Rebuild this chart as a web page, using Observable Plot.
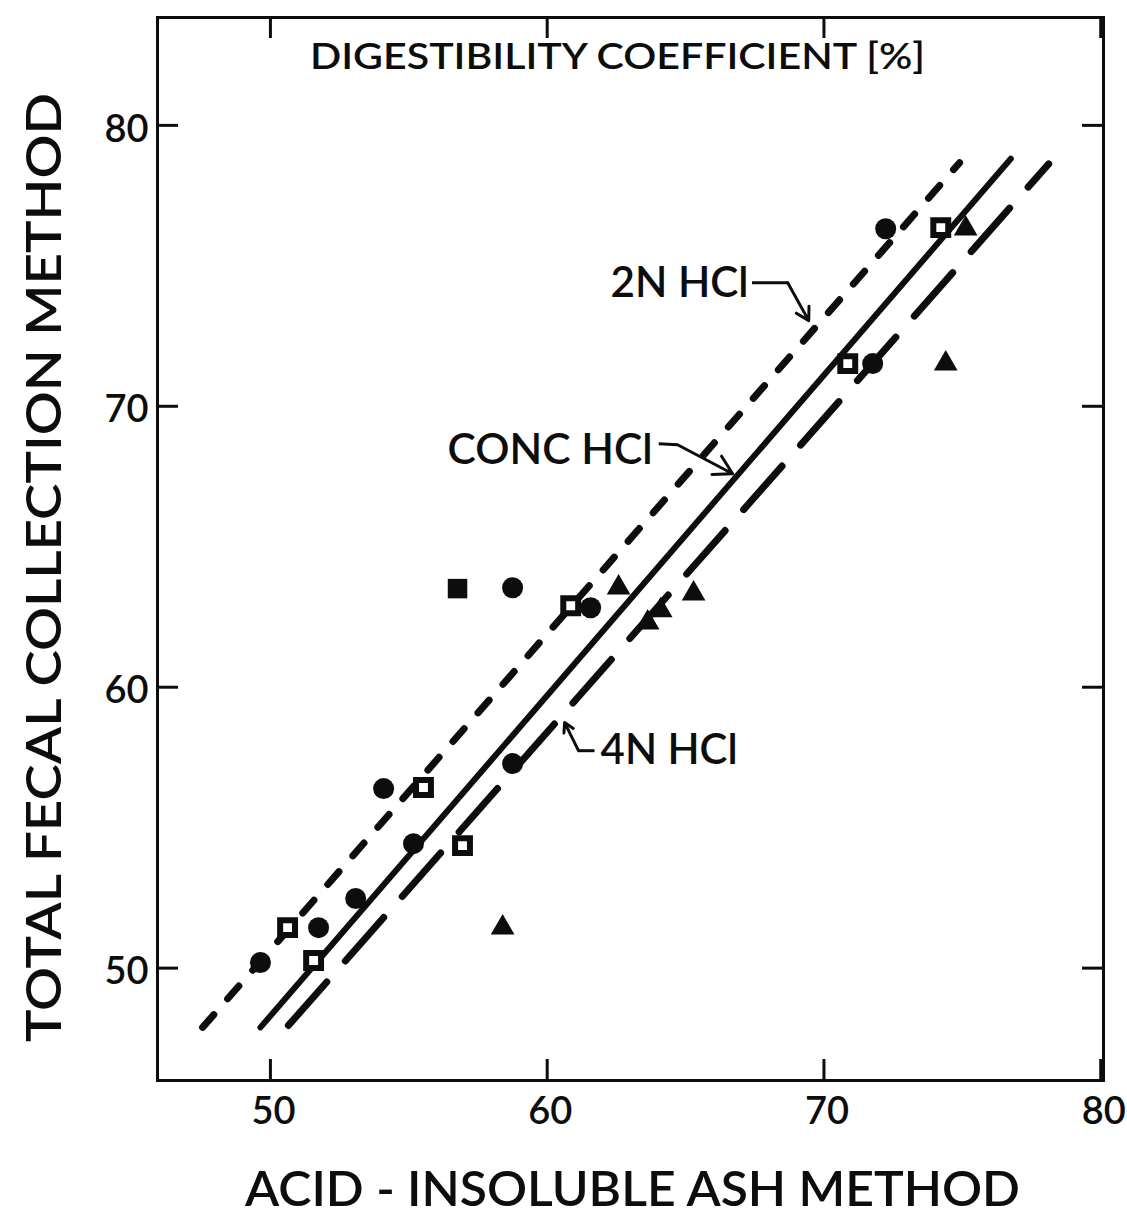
<!DOCTYPE html>
<html><head><meta charset="utf-8">
<script src="https://cdn.jsdelivr.net/npm/d3@7"></script>
<script src="https://cdn.jsdelivr.net/npm/@observablehq/plot@0.6"></script>
<style>body{margin:0;background:#fff}</style>
</head><body><div id="chart"></div>
<script>
// ---- data ----
const xTicks = [50, 60, 70, 80];
const yTicks = [50, 60, 70, 80];

const circleX = [49.64, 51.74, 54.09, 53.08, 55.17, 58.75, 61.57, 72.23, 71.76, 58.75];
const circleY = [50.20, 51.44, 56.39, 52.48, 54.43, 63.54, 62.83, 76.32, 71.52, 57.28];

const openSquareX = [50.62, 51.56, 55.53, 56.94, 60.85, 70.86, 74.22];
const openSquareY = [51.44, 50.27, 56.43, 54.36, 62.90, 71.52, 76.36];

const filledSquareX = [56.76];
const filledSquareY = [63.51];

const triangleX = [58.39, 74.40, 75.12, 62.58, 64.10, 65.29, 63.63];
const triangleY = [51.44, 71.52, 76.32, 63.54, 62.73, 63.33, 62.30];

const lineNames = ["2N HCl", "CONC HCl", "4N HCl"];
const lineX1 = [47.55, 49.64, 50.65];
const lineY1 = [47.89, 47.89, 47.96];
const lineX2 = [74.90, 76.75, 78.12];
const lineY2 = [78.67, 78.81, 78.63];

// leader labels: text anchor point, elbow start, elbow end, arrow tip
const labelText = ["2N HCl", "CONC HCl", "4N HCl"];
const labelX = [62.29, 56.40, 61.93];
const labelY = [74.36, 68.42, 57.74];
const leadStartX = [67.40, 64.03, 61.71];
const leadStartY = [74.40, 68.67, 57.74];
const leadElbowX = [68.69, 64.71, 61.13];
const leadElbowY = [74.40, 68.63, 57.74];
const leadTipX = [69.45, 66.70, 60.63];
const leadTipY = [73.05, 67.60, 58.74];

const titleText = "DIGESTIBILITY COEFFICIENT [%]";
const xTitle = "ACID - INSOLUBLE ASH METHOD";
const yTitle = "TOTAL FECAL COLLECTION METHOD";

// ---- tables ----
const zipXY = (xs, ys) => xs.map((x, i) => ({x, y: ys[i]}));
const circles = zipXY(circleX, circleY);
const openSquares = zipXY(openSquareX, openSquareY);
const filledSquares = zipXY(filledSquareX, filledSquareY);
const triangles = zipXY(triangleX, triangleY);
const lines = lineNames.map((name, i) => ({name, x1: lineX1[i], y1: lineY1[i], x2: lineX2[i], y2: lineY2[i]}));
const labels = labelText.map((text, i) => ({
  text, x: labelX[i], y: labelY[i],
  sx: leadStartX[i], sy: leadStartY[i], ex: leadElbowX[i], ey: leadElbowY[i], tx: leadTipX[i], ty: leadTipY[i]
}));

const W = 1127, H = 1226;
const mL = 157, mR = 24, mT = 17, mB = 146;
const fW = W - mL - mR, fH = H - mT - mB;
const tickLen = 21;
const ink = "#0d0d0d";
const fw = 600;

const chart = Plot.plot({
  width: W, height: H,
  marginLeft: mL, marginRight: mR, marginTop: mT, marginBottom: mB,
  x: {domain: [45.92, 80.1], axis: null},
  y: {domain: [46, 83.84], axis: null},
  style: {fontFamily: "Lato, 'Open Sans', sans-serif", background: "#fff", color: ink},
  marks: [
    // inward ticks on all four sides
    Plot.tickX(xTicks, {x: d => d, insetTop: fH - tickLen, stroke: ink, strokeWidth: 3}),
    Plot.tickX(xTicks, {x: d => d, insetBottom: fH - tickLen, stroke: ink, strokeWidth: 3}),
    Plot.tickY(yTicks, {y: d => d, insetRight: fW - tickLen, stroke: ink, strokeWidth: 3}),
    Plot.tickY(yTicks, {y: d => d, insetLeft: fW - tickLen, stroke: ink, strokeWidth: 3}),
    Plot.frame({stroke: ink, strokeWidth: 3}),
    // tick labels
    Plot.text(xTicks, {x: d => d, frameAnchor: "bottom", lineAnchor: "middle", dy: 31, dx: 3, text: d => String(d), fontSize: 38, fontWeight: fw, fill: ink}),
    Plot.text(yTicks, {y: d => d, frameAnchor: "left", lineAnchor: "middle", dx: -9, dy: 4, textAnchor: "end", text: d => String(d), fontSize: 38, fontWeight: fw, fill: ink}),
    // regression lines
    Plot.link(lines.filter(d => d.name === "2N HCl"), {x1: "x1", y1: "y1", x2: "x2", y2: "y2", stroke: ink, strokeWidth: 7, strokeLinecap: "round", strokeDasharray: "17,21"}),
    Plot.link(lines.filter(d => d.name === "CONC HCl"), {x1: "x1", y1: "y1", x2: "x2", y2: "y2", stroke: ink, strokeWidth: 6, strokeLinecap: "round"}),
    Plot.link(lines.filter(d => d.name === "4N HCl"), {x1: "x1", y1: "y1", x2: "x2", y2: "y2", stroke: ink, strokeWidth: 7, strokeLinecap: "round", strokeDasharray: "58,28"}),
    // data points
    Plot.dot(circles, {x: "x", y: "y", r: 10.5, fill: ink, stroke: "none"}),
    Plot.dot(openSquares, {x: "x", y: "y", symbol: "square", r: 8.4, fill: "#fff", stroke: ink, strokeWidth: 6}),
    Plot.dot(filledSquares, {x: "x", y: "y", symbol: "square", r: 11, fill: ink, stroke: "none"}),
    Plot.dot(triangles, {x: "x", y: "y", symbol: "triangle", r: 8.8, fill: ink, stroke: "none"}),
    // line labels with leaders
    Plot.text(labels, {x: "x", y: "y", text: "text", textAnchor: "start", lineAnchor: "middle", fontSize: 42, fontWeight: fw, fill: ink}),
    Plot.link(labels, {x1: "sx", y1: "sy", x2: "ex", y2: "ey", stroke: ink, strokeWidth: 3}),
    Plot.arrow(labels, {x1: "ex", y1: "ey", x2: "tx", y2: "ty", stroke: ink, strokeWidth: 3, headLength: 16}),
    // titles
    Plot.text([titleText], {frameAnchor: "top", lineAnchor: "middle", dy: 40, dx: -13, text: d => d, fontSize: 36, fontWeight: fw, fill: ink}),
    Plot.text([xTitle], {frameAnchor: "bottom", lineAnchor: "middle", dy: 110, dx: 2, text: d => d, fontSize: 48, fontWeight: fw, fill: ink}),
    Plot.text([yTitle], {frameAnchor: "left", lineAnchor: "middle", textAnchor: "start", dx: -112, dy: 493, rotate: -90, text: d => d, fontSize: 48, fontWeight: fw, fill: ink})
  ]
});

// force text extents to match the reference lettering
const svg = d3.select(chart);
const lengths = new Map([
  [titleText, 615], [xTitle, 775], [yTitle, 949],
  ["2N HCl", 138], ["CONC HCl", 205], ["4N HCl", 137]
]);
svg.selectAll("text").each(function() {
  const t = this.textContent;
  if (lengths.has(t)) {
    d3.select(this).attr("textLength", lengths.get(t)).attr("lengthAdjust", "spacingAndGlyphs");
  }
});

document.getElementById("chart").appendChild(chart);
</script>
</body></html>
